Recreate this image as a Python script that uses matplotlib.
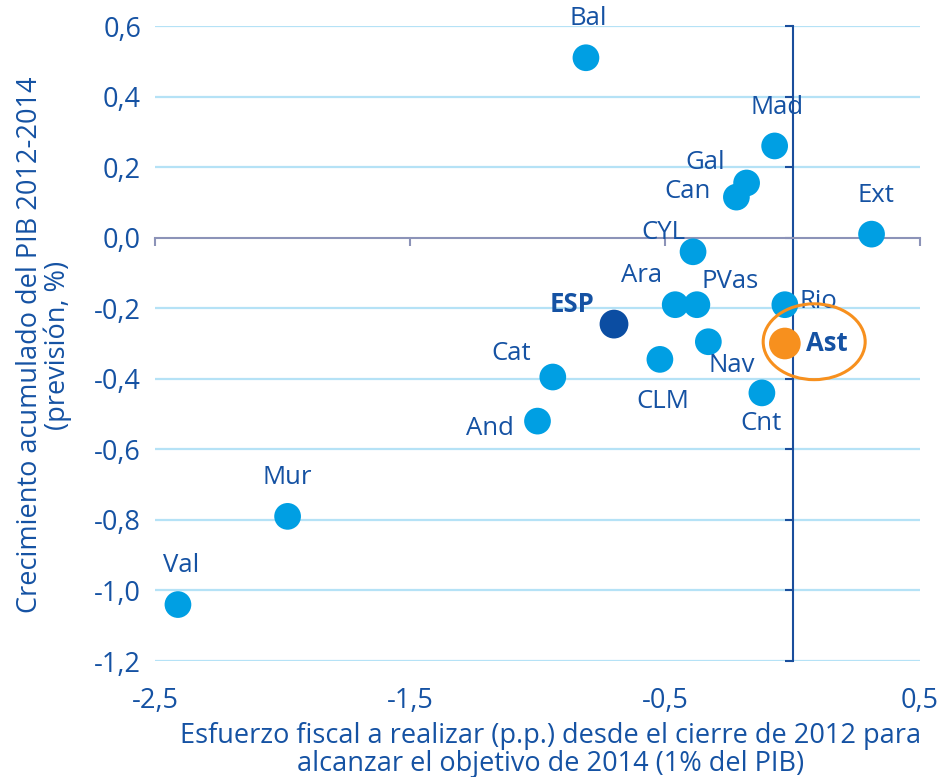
import numpy as np
import matplotlib.pyplot as plt
from matplotlib.patches import Ellipse

plt.rcParams['font.family'] = ['Open Sans', 'DejaVu Sans']

# data
regions = ['Bal', 'Mad', 'Gal', 'Can', 'Ext', 'CYL', 'Ara', 'PVas', 'Rio',
           'ESP', 'Nav', 'Ast', 'CLM', 'Cat', 'Cnt', 'And', 'Mur', 'Val']
esfuerzo = [-0.81, -0.07, -0.18, -0.22, 0.31, -0.39, -0.46, -0.375, -0.03,
            -0.70, -0.33, -0.03, -0.52, -0.94, -0.12, -1.00, -1.98, -2.41]
crecimiento = [0.51, 0.26, 0.155, 0.115, 0.01, -0.04, -0.19, -0.19, -0.19,
               -0.245, -0.295, -0.30, -0.345, -0.395, -0.44, -0.52, -0.79, -1.04]

x_ticks = [-2.5, -1.5, -0.5, 0.5]
y_ticks = [0.6, 0.4, 0.2, 0.0, -0.2, -0.4, -0.6, -0.8, -1.0, -1.2]

# label offsets in points (dx, dy)
offsets = {'Bal': (2, 28), 'Mad': (2, 28), 'Gal': (-30, 15), 'Can': (-35, 4),
           'Ext': (3, 28), 'CYL': (-21, 14), 'Ara': (-24, 21), 'PVas': (24, 17),
           'Rio': (24, 2), 'ESP': (-30, 14), 'Nav': (17, -17), 'Ast': (30, 0),
           'CLM': (2, -30), 'Cat': (-30, 17), 'Cnt': (-1, -22), 'And': (-34, -5),
           'Mur': (0, 28), 'Val': (2, 28)}

blue = '#009FE3'
dark = '#0B4DA2'
orange = '#F7901E'
txt = '#1552A3'

fig = plt.figure(figsize=(9.41, 7.77), dpi=100)
rect = [155 / 941, 1 - 661 / 777, 765 / 941, 635 / 777]
ax = fig.add_axes(rect)
ax.set_xlim(-2.5, 0.5)
ax.set_ylim(-1.2, 0.6)

# grid
for y in y_ticks:
    if y != 0:
        ax.axhline(y, color='#B5E2F6', lw=1.6, zorder=0)

# axes crossing at 0
for s in ['top', 'right']:
    ax.spines[s].set_visible(False)
ax.spines['left'].set_position(('data', 0))
ax.spines['bottom'].set_position(('data', 0))
ax.spines['left'].set_color('#1A4E9C')
ax.spines['left'].set_linewidth(1.5)
ax.spines['bottom'].set_color('#8C93B8')
ax.spines['bottom'].set_linewidth(1.5)
ax.set_xticks(x_ticks)
ax.set_yticks(y_ticks)
ax.tick_params(axis='x', direction='out', length=6, width=1.5, color='#8C93B8',
               labelbottom=False)
ax.tick_params(axis='y', direction='out', length=6, width=1.5, color='#1A4E9C',
               labelleft=False)

# points
colors = []
sizes = []
for r in regions:
    if r == 'ESP':
        colors.append(dark)
        sizes.append(430)
    elif r == 'Ast':
        colors.append(orange)
        sizes.append(520)
    else:
        colors.append(blue)
        sizes.append(370)
ax.scatter(esfuerzo, crecimiento, s=sizes, c=colors, edgecolors='none', zorder=3)

for r, xv, yv in zip(regions, esfuerzo, crecimiento):
    bold = r in ('ESP', 'Ast')
    ax.annotate(r, (xv, yv), xytext=offsets[r], textcoords='offset points',
                ha='center', va='center', fontsize=18.5, color=txt,
                fontweight='bold' if bold else 'normal', zorder=4)

# highlight Asturias
ia = regions.index('Ast')
ax.add_patch(Ellipse((esfuerzo[ia] + 0.115, crecimiento[ia] + 0.005), 0.40, 0.215,
                     fill=False, ec=orange, lw=2.2, zorder=5))

# overlay axes for tick labels at the outer edges
lab = fig.add_axes(rect, zorder=-1)
lab.set_xlim(-2.5, 0.5)
lab.set_ylim(-1.2, 0.6)
lab.set_xticks(x_ticks)
lab.set_xticklabels([('%.1f' % v).replace('.', ',') for v in x_ticks])
lab.set_yticks(y_ticks)
lab.set_yticklabels([('%.1f' % v).replace('.', ',') for v in y_ticks])
lab.tick_params(length=0, labelsize=19.5, labelcolor=txt)
lab.tick_params(axis='y', pad=10)
lab.tick_params(axis='x', pad=19)
lab.patch.set_visible(False)
for s in lab.spines.values():
    s.set_visible(False)

fig.text(44 / 941, 1 - 345 / 777,
         'Crecimiento acumulado del PIB 2012-2014\n(previsión, %)',
         rotation=90, ha='center', va='center', fontsize=19.5, color=txt,
         linespacing=1.0)
fig.text(551 / 941, 1 - 750 / 777,
         'Esfuerzo fiscal a realizar (p.p.) desde el cierre de 2012 para\n'
         'alcanzar el objetivo de 2014 (1% del PIB)',
         ha='center', va='center', fontsize=19.5, color=txt, linespacing=1.0)

fig.savefig('out.png', dpi=100)
